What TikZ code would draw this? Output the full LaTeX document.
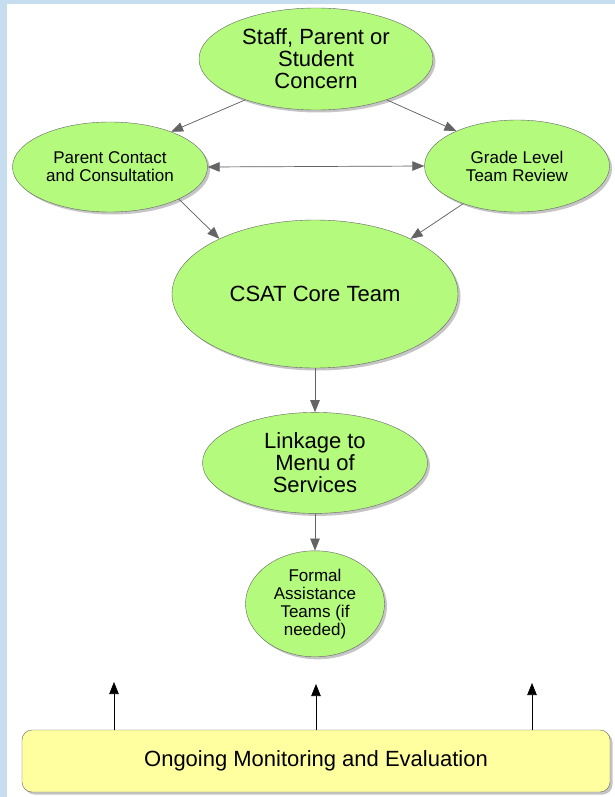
\documentclass[tikz,border=0pt]{standalone}
\usepackage{fontspec}
\setmainfont{Liberation Sans}
\usepackage{tikz}
\usetikzlibrary{shapes,arrows.meta}
\usetikzlibrary{positioning}
\usetikzlibrary{shadows}

\definecolor{bubgreen}{RGB}{180,250,125}
\definecolor{boxyellow}{RGB}{255,255,160}
\definecolor{pageblue}{RGB}{198,221,240}
\definecolor{linegray}{RGB}{100,100,100}

\begin{document}
\begin{tikzpicture}[x=1pt,y=1pt,>={Triangle[length=12pt,width=9.5pt]},
  bub/.style={ellipse,draw=linegray,fill=bubgreen,align=center,inner sep=0pt,
    drop shadow={opacity=0.45,shadow xshift=2.5pt,shadow yshift=-2.5pt}},
  big/.style={font=\fontsize{22}{22}\selectfont},
  small/.style={font=\fontsize{17}{18}\selectfont},
  flow/.style={->,draw=linegray,fill=linegray,line width=0.7pt}]
\useasboundingbox (0,0) rectangle (615,-797);
\fill[pageblue] (0,0) rectangle (615,-797);
\fill[white] (7,-4) rectangle (615,-797);

\path node[bub,big,minimum width=234pt,minimum height=102pt] at (316,-59) (concern) {Staff, Parent or\\Student\\Concern};
\path node[bub,small,minimum width=195pt,minimum height=90pt] at (110,-167) (contact) {Parent Contact\\and Consultation};
\path node[bub,small,minimum width=185pt,minimum height=92pt] at (517,-166) (grade) {Grade Level\\Team Review};
\path node[bub,big,minimum width=286pt,minimum height=148pt] at (315,-294) (csat) {CSAT Core Team};
\path node[bub,big,minimum width=225pt,minimum height=101pt,below=44pt of csat] (linkage) {Linkage to\\Menu of\\Services};
\path node[bub,small,minimum width=139pt,minimum height=106pt,below=37pt of linkage] (formal) {Formal\\Assistance\\Teams (if\\needed)};

\path node[draw=linegray,fill=boxyellow,rounded corners=10pt,big,minimum width=588pt,minimum height=62pt,
  drop shadow={opacity=0.45,shadow xshift=2.5pt,shadow yshift=-2.5pt}] at (316,-761) (monitor) {Ongoing Monitoring and Evaluation};

\path[flow] (concern.210) -- (contact.30);
\path[flow] (concern.330) -- (grade.150);
\path[flow,<->] (contact.east) -- (grade.west);
\path[flow] (contact.335) -- (csat.150);
\path[flow] (grade.215) -- (csat.30);
\path[flow] (csat.south) -- (linkage.north);
\path[flow] (linkage.south) -- (formal.north);

% free ends of the monitoring arrows
\coordinate (up1) at (114,-682);
\coordinate (up2) at (316,-684);
\coordinate (up3) at (532,-683);
\foreach \c in {up1,up2,up3}
  \path[->,draw,fill=black,line width=0.7pt] (monitor.north -| \c) -- (\c);
\end{tikzpicture}
\end{document}
